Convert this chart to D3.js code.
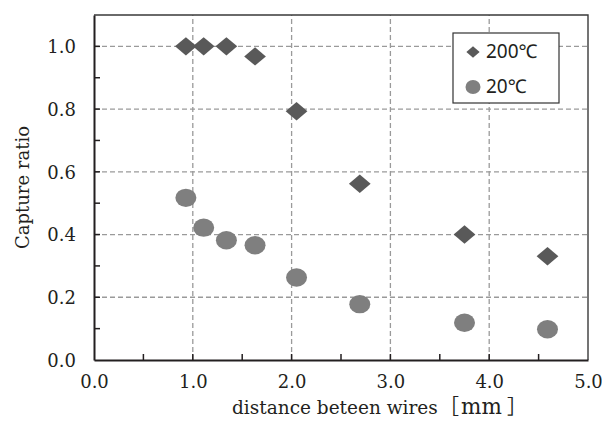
<!DOCTYPE html>
<html>
<head>
<meta charset="utf-8">
<script src="https://cdn.jsdelivr.net/npm/d3@7"></script>
<style>
  body { margin: 0; background: #fff; }
  svg { display: block; }
</style>
</head>
<body>
<svg></svg>
<script>
const width = 602;
const height = 421;

// data
const distances = [0.93, 1.11, 1.34, 1.63, 2.05, 2.69, 3.75, 4.59];
const hot = [1.0, 1.0, 1.0, 0.968, 0.793, 0.562, 0.40, 0.331];   // 200℃
const cold = [0.517, 0.422, 0.382, 0.366, 0.263, 0.178, 0.119, 0.098]; // 20℃
const xTicks = [0, 1, 2, 3, 4, 5];
const yTicks = [0, 0.2, 0.4, 0.6, 0.8, 1.0];
const seriesNames = ["200℃", "20℃"];

const margin = { top: 15, right: 14, bottom: 61, left: 94 };

const svg = d3.select("svg")
  .attr("width", width)
  .attr("height", height);

const x = d3.scaleLinear().domain([0, 5]).range([margin.left, width - margin.right]);
const y = d3.scaleLinear().domain([0, 1.1]).range([height - margin.bottom, margin.top]);

const serif = "'DejaVu Serif', serif";
const cjk = "'Noto Sans CJK JP', sans-serif";

// grid
svg.append("g")
  .selectAll("line")
  .data(yTicks.filter(d => d > 0))
  .join("line")
  .attr("x1", x(0)).attr("x2", x(5))
  .attr("y1", d => y(d)).attr("y2", d => y(d))
  .attr("stroke", "#9a9a9a")
  .attr("stroke-width", 1.3)
  .attr("stroke-dasharray", "5,3");

svg.append("g")
  .selectAll("line")
  .data(xTicks.filter(d => d > 0 && d < 5))
  .join("line")
  .attr("x1", d => x(d)).attr("x2", d => x(d))
  .attr("y1", y(0)).attr("y2", y(1.1))
  .attr("stroke", "#9a9a9a")
  .attr("stroke-width", 1.3)
  .attr("stroke-dasharray", "5,3");

// frame top and right
svg.append("path")
  .attr("d", `M${x(0)},${y(1.1)}H${x(5)}V${y(0)}`)
  .attr("fill", "none")
  .attr("stroke", "#3a3a3a")
  .attr("stroke-width", 1.4);

// axes, ticks pointing inward
const xAxis = d3.axisBottom(x)
  .tickValues(xTicks)
  .tickSize(0)
  .tickPadding(15)
  .tickFormat(d3.format(".1f"));

const yAxis = d3.axisLeft(y)
  .tickValues(yTicks)
  .tickSize(0)
  .tickPadding(18)
  .tickFormat(d3.format(".1f"));

const gx = svg.append("g")
  .attr("transform", `translate(0,${y(0)})`)
  .call(xAxis);
const gy = svg.append("g")
  .attr("transform", `translate(${x(0)},0)`)
  .call(yAxis);

[gx, gy].forEach(g => {
  g.select(".domain").attr("stroke", "#231f20").attr("stroke-width", 2);
  g.selectAll("text")
    .attr("font-family", serif)
    .attr("font-size", 18)
    .attr("fill", "#231f20");
});
gy.selectAll("text").attr("dy", "0.35em");

// minor ticks
const xMinor = d3.range(0.5, 5, 0.5);
svg.append("g")
  .selectAll("line")
  .data(xMinor)
  .join("line")
  .attr("x1", d => x(d)).attr("x2", d => x(d))
  .attr("y1", y(0)).attr("y2", y(0) - 6)
  .attr("stroke", "#231f20")
  .attr("stroke-width", 1.5);

const yMinor = d3.range(0.1, 1.1, 0.1);
svg.append("g")
  .selectAll("line")
  .data(yMinor)
  .join("line")
  .attr("x1", x(0)).attr("x2", x(0) + 6)
  .attr("y1", d => y(d)).attr("y2", d => y(d))
  .attr("stroke", "#231f20")
  .attr("stroke-width", 1.5);

// axis titles
const xTitle = svg.append("text")
  .attr("x", 232)
  .attr("y", height - 7)
  .attr("font-family", serif)
  .attr("font-size", 18.5)
  .attr("fill", "#231f20");
xTitle.append("tspan").text("distance beteen wires");
xTitle.append("tspan")
  .attr("x", 439)
  .attr("font-family", cjk)
  .attr("font-size", 20)
  .text("［");
xTitle.append("tspan")
  .attr("x", 461)
  .attr("font-size", 21.5)
  .text("mm");
xTitle.append("tspan")
  .attr("x", 507)
  .attr("font-family", cjk)
  .attr("font-size", 20)
  .text("］");

svg.append("text")
  .attr("transform", `translate(29,${(y(0) + y(1.1)) / 2}) rotate(-90)`)
  .attr("text-anchor", "middle")
  .attr("font-family", serif)
  .attr("font-size", 18)
  .attr("fill", "#231f20")
  .text("Capture ratio");

// markers
const diamond = d3.symbol().type(d3.symbolDiamond2).size(216);

svg.append("g")
  .selectAll("ellipse")
  .data(distances.map((d, i) => [d, cold[i]]))
  .join("ellipse")
  .attr("cx", d => x(d[0]))
  .attr("cy", d => y(d[1]))
  .attr("rx", 10.5)
  .attr("ry", 9.2)
  .attr("fill", "#7f7f7f");

svg.append("g")
  .selectAll("path")
  .data(distances.map((d, i) => [d, hot[i]]))
  .join("path")
  .attr("d", diamond)
  .attr("transform", d => `translate(${x(d[0])},${y(d[1])}) scale(1.18,1)`)
  .attr("fill", "#595959");

// legend
const legend = svg.append("g").attr("transform", "translate(453,33)");
legend.append("rect")
  .attr("width", 106)
  .attr("height", 70)
  .attr("fill", "#fff")
  .attr("stroke", "#333")
  .attr("stroke-width", 1.2);

legend.append("path")
  .attr("d", d3.symbol().type(d3.symbolDiamond2).size(85))
  .attr("transform", "translate(20,19) scale(1.15,1)")
  .attr("fill", "#595959");
legend.append("ellipse")
  .attr("cx", 20).attr("cy", 54)
  .attr("rx", 7.5).attr("ry", 7)
  .attr("fill", "#7f7f7f");

legend.selectAll("text")
  .data(seriesNames)
  .join("text")
  .attr("x", 33)
  .attr("y", (d, i) => 25 + i * 35)
  .attr("font-family", "'Noto Sans', sans-serif")
  .attr("font-size", 19)
  .attr("fill", "#231f20")
  .text(d => d);
</script>
</body>
</html>
